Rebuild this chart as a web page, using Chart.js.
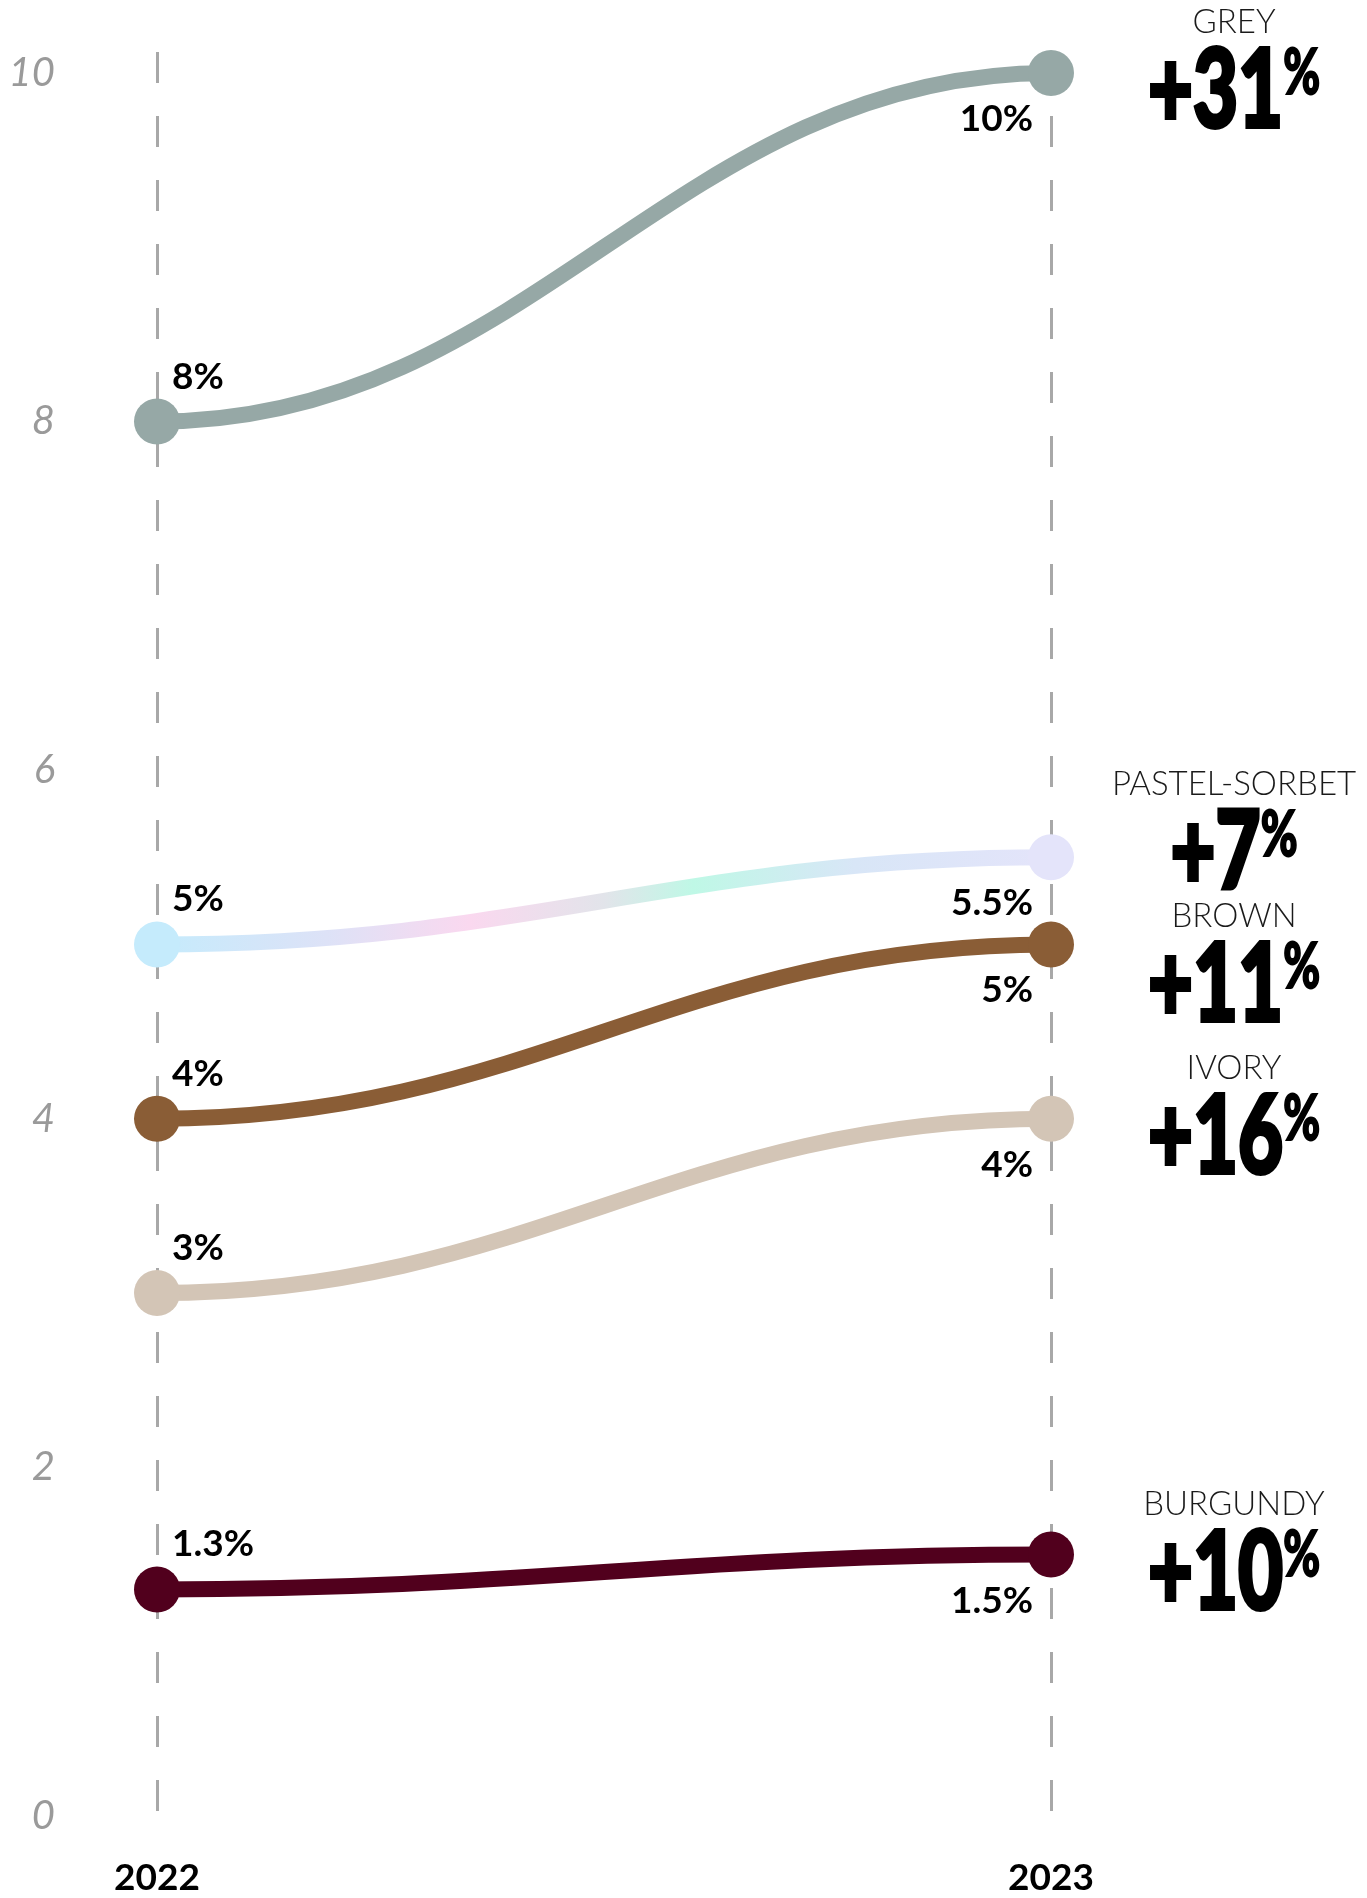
<!DOCTYPE html>
<html>
<head>
<meta charset="utf-8">
<title>Colour trends 2022-2023</title>
<script src="https://cdn.jsdelivr.net/npm/chart.js@4.4.1/dist/chart.umd.min.js"></script>
<style>
  html, body { margin: 0; padding: 0; background: #fff; }
  #wrap { width: 1367px; height: 1898px; position: relative; }
</style>
</head>
<body>
<div id="wrap"><canvas id="trend"></canvas></div>
<script>
// share of each colour, 2022 vs 2023
const years = ['2022', '2023'];
const colourNames = ['GREY', 'PASTEL-SORBET', 'BROWN', 'IVORY', 'BURGUNDY'];
const grey = [8, 10];
const pastelSorbet = [5, 5.5];
const brown = [4, 5];
const ivory = [3, 4];
const burgundy = [1.3, 1.5];
const changes = ['+31', '+7', '+11', '+16', '+10'];
const yTicks = [0, 2, 4, 6, 8, 10];

const series = [grey, pastelSorbet, brown, ivory, burgundy];
const lineColours = ['#96a8a6', null, '#8a5d36', '#d3c5b6', '#51001d'];

// the sorbet line fades through pastel tones from left to right
function sorbetGradient(context) {
  const area = context.chart.chartArea;
  if (!area) return '#dde2f7';
  const g = context.chart.ctx.createLinearGradient(area.left, 0, area.right, 0);
  g.addColorStop(0, '#c5ebfc');
  g.addColorStop(0.19, '#dde2f7');
  g.addColorStop(0.35, '#fad8ef');
  g.addColorStop(0.50, '#e2e4ea');
  g.addColorStop(0.60, '#bff8e6');
  g.addColorStop(0.78, '#d8e6f7');
  g.addColorStop(1, '#e4e4fa');
  return g;
}

// flat-ended S curves: horizontal tangents at every point
const sCurve = {
  id: 'sCurve',
  beforeDatasetDraw(chart, args) {
    const line = args.meta.dataset;
    const pts = args.meta.data;
    line.updateControlPoints(chart.chartArea, 'x');
    for (let i = 0; i < pts.length - 1; i++) {
      const a = pts[i], b = pts[i + 1];
      const d = (b.x - a.x) * 0.42;
      a.cp2x = a.x + d; a.cp2y = a.y;
      b.cp1x = b.x - d; b.cp1y = b.y;
    }
  }
};

// value labels next to each point
const valueLabels = {
  id: 'valueLabels',
  afterDatasetsDraw(chart) {
    const ctx = chart.ctx;
    ctx.save();
    ctx.fillStyle = '#000';
    ctx.font = 'bold 37px Lato';
    ctx.textBaseline = 'alphabetic';
    chart.data.datasets.forEach((ds, i) => {
      const pts = chart.getDatasetMeta(i).data;
      ctx.textAlign = 'left';
      ctx.fillText(ds.data[0] + '%', pts[0].x + 15, pts[0].y - 33);
      ctx.textAlign = 'right';
      ctx.fillText(ds.data[1] + '%', pts[1].x - 18, pts[1].y + 58);
    });
    ctx.restore();
  }
};

function drawChange(ctx, text, cx, baseline) {
  const sx = 0.72;
  const bigFont = '900 108px Lato';
  const pctFont = '900 62px Lato';
  ctx.font = bigFont;
  const wNum = ctx.measureText(text).width * sx;
  ctx.font = pctFont;
  const wPct = ctx.measureText('%').width * sx;
  const x0 = cx - (wNum + wPct) / 2;
  ctx.save();
  ctx.translate(x0, baseline);
  ctx.scale(sx, 1);
  ctx.font = bigFont;
  ctx.lineWidth = 4;
  ctx.strokeText(text, 0, 0);
  ctx.fillText(text, 0, 0);
  ctx.restore();
  ctx.save();
  ctx.translate(x0 + wNum, baseline - 33);
  ctx.scale(sx, 1);
  ctx.font = pctFont;
  ctx.lineWidth = 2;
  ctx.strokeText('%', 0, 0);
  ctx.fillText('%', 0, 0);
  ctx.restore();
}

// colour name and change figure to the right of the 2023 points
const changeLabels = {
  id: 'changeLabels',
  afterDraw(chart) {
    const ctx = chart.ctx;
    const n = chart.data.datasets.length;
    const ys = [];
    for (let i = 0; i < n; i++) ys.push(chart.getDatasetMeta(i).data[1].y);
    // push overlapping blocks apart
    const order = ys.map((y, i) => i).sort((a, b) => ys[a] - ys[b]);
    const minGap = 132;
    for (let it = 0; it < 30; it++) {
      for (let k = 1; k < order.length; k++) {
        const a = order[k - 1], b = order[k];
        const gap = ys[b] - ys[a];
        if (gap < minGap) {
          const s = (minGap - gap) / 2;
          ys[a] -= s; ys[b] += s;
        }
      }
    }
    const cx = chart.chartArea.right + 183;
    ctx.save();
    ctx.textBaseline = 'alphabetic';
    for (let i = 0; i < n; i++) {
      ctx.font = '300 33px Lato';
      ctx.fillStyle = '#1a1a1a';
      ctx.textAlign = 'center';
      ctx.fillText(colourNames[i], cx, ys[i] - 40);
      ctx.fillStyle = '#000';
      ctx.strokeStyle = '#000';
      ctx.textAlign = 'left';
      drawChange(ctx, changes[i], cx, ys[i] + 54);
    }
    ctx.restore();
  }
};

const datasets = series.map((data, i) => ({
  label: colourNames[i],
  data: data,
  borderColor: i === 1 ? sorbetGradient : lineColours[i],
  pointBackgroundColor: i === 1 ? ['#c5ebfc', '#e4e4fa'] : lineColours[i],
  pointBorderWidth: 0,
  pointRadius: 23,
  pointHoverRadius: 23,
  borderWidth: 16,
  tension: 0.4,
  clip: false
}));

const chart = new Chart(document.getElementById('trend'), {
  type: 'line',
  data: { labels: years, datasets: datasets },
  options: {
    responsive: true,
    maintainAspectRatio: false,
    animation: false,
    events: [],
    layout: { autoPadding: false, padding: { top: 52, right: 316, bottom: 0, left: 0 } },
    plugins: { legend: { display: false }, tooltip: { enabled: false } },
    scales: {
      x: {
        offset: false,
        grid: { color: '#a8a8a8', lineWidth: 3, drawTicks: false },
        border: { display: false, dash: [31, 33] },
        ticks: {
          color: '#000',
          padding: 40,
          font: { family: 'Lato', weight: 'bold', size: 37 }
        },
        afterFit(scale) {
          scale.height = 82;
          scale.paddingLeft = 0;
          scale.paddingRight = 0;
        }
      },
      y: {
        min: 0,
        max: 10.12,
        grid: { display: false, drawTicks: false },
        border: { display: false },
        afterBuildTicks(scale) { scale.ticks = yTicks.map(v => ({ value: v })); },
        ticks: {
          color: '#9a9a9a',
          padding: 102,
          crossAlign: 'near',
          font: { family: 'Lato', style: 'italic', weight: 400, size: 40 }
        },
        afterFit(scale) {
          scale.width = 157;
          scale.paddingTop = 0;
          scale.paddingBottom = 0;
        }
      }
    }
  },
  plugins: [sCurve, valueLabels, changeLabels]
});
</script>
</body>
</html>
